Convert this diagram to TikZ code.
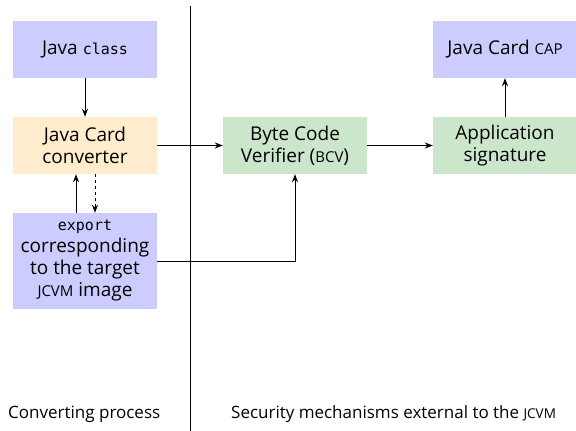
\documentclass[tikz,border=0pt]{standalone}
\usepackage{fontspec}
\setmainfont{Open Sans}
\setmonofont{DejaVu Sans Mono}
\usetikzlibrary{arrows.meta}
\definecolor{boxblue}{RGB}{204,204,255}
\definecolor{boxorange}{RGB}{255,236,204}
\definecolor{boxgreen}{RGB}{204,230,204}
\newcommand{\fakesc}[1]{{\fontsize{15pt}{15pt}\selectfont #1}}
\newcommand{\fakescs}[1]{{\fontsize{13.5pt}{13.5pt}\selectfont #1}}
\begin{document}
\begin{tikzpicture}[x=1pt,y=-1pt,
  box/.style={minimum width=144pt,minimum height=57pt,inner sep=0pt,align=center,
    font=\fontsize{19pt}{22pt}\selectfont},
  conn/.style={line width=1pt,-{Stealth[length=8pt,width=6pt]}}]
\useasboundingbox (0,0) rectangle (576,431);
\node[box,fill=boxblue] (jclass) at (85,49.5) {Java {\ttfamily\fontsize{15pt}{16pt}\selectfont class}};
\node[box,fill=boxorange] (conv) at (85,145.5) {Java Card\\converter};
\node[box,fill=boxblue,minimum height=96pt] (export) at (85,261) {{\ttfamily\fontsize{15pt}{16pt}\selectfont export}\\corresponding\\to the target\\\fakesc{JCVM} image};
\node[box,fill=boxgreen] (bcv) at (295,145.5) {Byte Code\\Verifier (\fakesc{BCV})};
\node[box,fill=boxgreen] (sig) at (505,145.5) {Application\\signature};
\node[box,fill=boxblue] (cap) at (505,49.5) {Java Card \fakesc{CAP}};
\coordinate (ltop) at (190,6);
\coordinate (lbot) at (190,431);
\draw[line width=1pt] (ltop) -- (lbot);
\node[anchor=base west,font=\fontsize{17pt}{19pt}\selectfont,inner sep=0pt] (lconv) at (8,418) {Converting process};
\node[anchor=base west,font=\fontsize{17pt}{19pt}\selectfont,inner sep=0pt] (lsec) at (231,418) {Security mechanisms external to the \fakescs{JCVM}};
\draw[conn] (jclass) -- (conv);
\draw[conn] (conv) -- (bcv);
\draw[conn] (bcv) -- (sig);
\draw[conn] (sig) -- (cap);
\draw[conn] ([xshift=-9pt]export.north) -- ([xshift=-9pt]conv.south);
\draw[conn,dashed] ([xshift=10pt]conv.south) -- ([xshift=10pt]export.north);
\draw[conn] (export.east) -| (bcv.south);
\end{tikzpicture}
\end{document}
